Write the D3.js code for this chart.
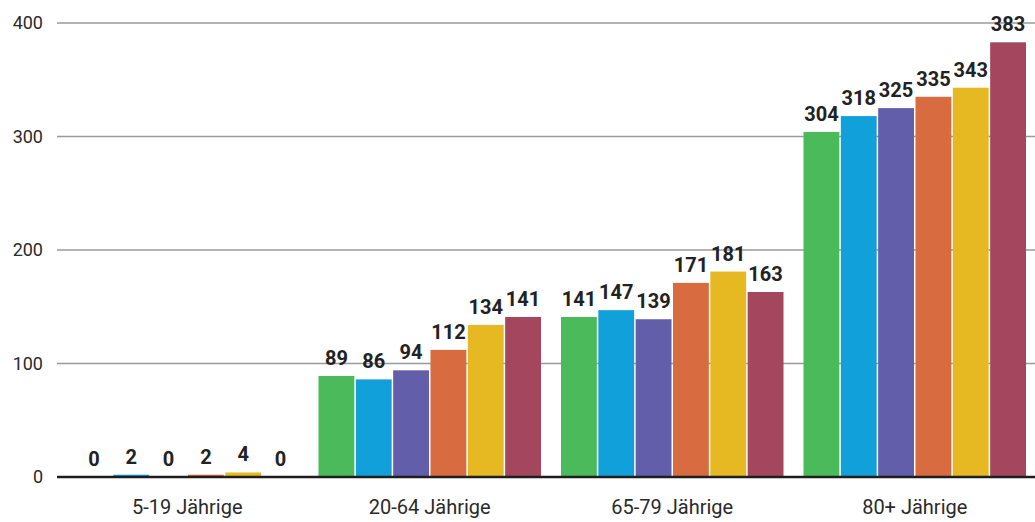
<!DOCTYPE html>
<html><head><meta charset="utf-8">
<script src="https://cdn.jsdelivr.net/npm/d3@7"></script>
<style>body{margin:0;background:#fff;} svg{display:block;}</style>
</head><body>
<svg id="chart" width="1035" height="522"></svg>
<script>
const categories = ["5-19 Jährige", "20-64 Jährige", "65-79 Jährige", "80+ Jährige"];
const seriesNames = ["s1", "s2", "s3", "s4", "s5", "s6"];
const seriesColors = ["#4aba5a", "#12a0db", "#625ea9", "#d86b40", "#e6b923", "#a3465e"];
const s1 = [0, 89, 141, 304];
const s2 = [2, 86, 147, 318];
const s3 = [0, 94, 139, 325];
const s4 = [2, 112, 171, 335];
const s5 = [4, 134, 181, 343];
const s6 = [0, 141, 163, 383];
const yTicks = [0, 100, 200, 300, 400];

const seriesValues = [s1, s2, s3, s4, s5, s6];
const svg = d3.select("#chart");
const y = d3.scaleLinear().domain([0, 400]).range([477, 23]);
const x0 = d3.scaleBand().domain(categories).range([66, 1036]).padding(0);
const x1 = d3.scaleBand().domain(seriesNames).range([10, x0.bandwidth() - 10]).paddingInner(0.04);

// gridlines
svg.append("g").selectAll("line").data(yTicks.filter(t => t > 0)).join("line")
  .attr("x1", 57).attr("x2", 1035)
  .attr("y1", d => y(d)).attr("y2", d => y(d))
  .attr("stroke", "#9a9a9a").attr("stroke-width", 1.5);

// y tick labels
svg.append("g").selectAll("text").data(yTicks).join("text")
  .attr("x", 43).attr("y", d => y(d)).attr("dy", "0.36em")
  .attr("text-anchor", "end")
  .attr("font-family", "Roboto, sans-serif").attr("font-size", 18)
  .attr("fill", "#2a2a2a").text(d => d);

// bars
const groups = svg.append("g").selectAll("g").data(categories).join("g")
  .attr("transform", d => `translate(${x0(d)},0)`);
groups.each(function(cat, ci) {
  const g = d3.select(this);
  const data = seriesNames.map((s, si) => ({s, si, v: seriesValues[si][ci]}));
  g.selectAll("rect").data(data).join("rect")
    .attr("x", d => x1(d.s)).attr("width", x1.bandwidth())
    .attr("y", d => y(d.v)).attr("height", d => y(0) - y(d.v))
    .attr("fill", d => seriesColors[d.si]);
  g.selectAll("text").data(data).join("text")
    .attr("x", d => x1(d.s) + x1.bandwidth() / 2)
    .attr("y", d => y(d.v) - 11)
    .attr("text-anchor", "middle")
    .attr("font-family", "Roboto, sans-serif").attr("font-weight", 700).attr("font-size", 20)
    .attr("fill", "#222").text(d => d.v);
});

// baseline
svg.append("line").attr("x1", 57).attr("x2", 1035)
  .attr("y1", y(0)).attr("y2", y(0))
  .attr("stroke", "#1e1e1e").attr("stroke-width", 2.5);

// category labels
svg.append("g").selectAll("text").data(categories).join("text")
  .attr("x", d => x0(d) + x0.bandwidth() / 2).attr("y", 514)
  .attr("text-anchor", "middle")
  .attr("font-family", "Roboto, sans-serif").attr("font-size", 20)
  .attr("fill", "#2a2a2a").text(d => d);
</script>
</body></html>
